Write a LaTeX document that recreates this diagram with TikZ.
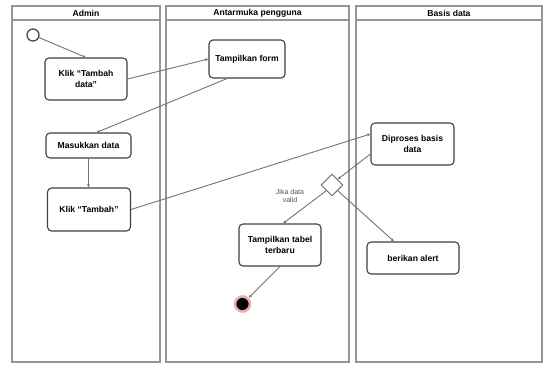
\documentclass[tikz,border=0pt]{standalone}
\usepackage{fontspec}
\setmainfont{Liberation Sans}
\usetikzlibrary{arrows.meta, shapes.geometric}
\definecolor{lanegray}{RGB}{150,150,150}
\definecolor{stopred}{RGB}{240,170,170}

\begin{document}
\begin{tikzpicture}[
    x=1pt, y=-1pt,
    lane/.style={draw=lanegray,line width=1.3pt},
    head/.style={font=\fontsize{8.6}{10}\selectfont\bfseries},
    box/.style={draw=black!75,line width=1.1pt,rounded corners=4pt,fill=white,
                align=center,font=\fontsize{8.6}{10.5}\selectfont\bfseries},
    arr/.style={-{Latex[length=3pt,width=3pt]},line width=0.9pt,black!55},
]
  \useasboundingbox (0,0) rectangle (545,364);

  % Lanes
  \draw[lane] (12,6) rectangle (160,362);
  \draw[lane] (12,20) -- (160,20);
  \node[head] (hadmin) at (86,13) {Admin};
  \draw[lane] (166,6) rectangle (349,362);
  \draw[lane] (166,20) -- (349,20);
  \node[head] (hui) at (257.5,13) {Antarmuka pengguna};
  \draw[lane] (356,6) rectangle (542,362);
  \draw[lane] (356,20) -- (542,20);
  \node[head] (hdb) at (449,13) {Basis data};

  % Actions
  \node[draw=black!70,line width=1.3pt,circle,minimum size=12pt,inner sep=0pt] (start) at (33,35) {};
  \node[box,minimum width=82pt,minimum height=42pt] (klik) at (86,79) {Klik “Tambah\\data”};
  \node[box,minimum width=76pt,minimum height=38pt] (form) at (247,59) {Tampilkan form};
  \node[box,minimum width=85pt,minimum height=25pt] (masuk) at (88.5,145.5) {Masukkan data};
  \node[box,minimum width=83pt,minimum height=43pt] (tambah) at (89,209.5) {Klik “Tambah”};
  \node[box,minimum width=83pt,minimum height=42pt] (proses) at (412.5,144) {Diproses basis\\data};
  \node[draw=black!60,line width=0.9pt,diamond,fill=white,minimum size=22pt,inner sep=0pt] (cek) at (332,185) {};
  \node[box,minimum width=82pt,minimum height=42pt] (tabel) at (280,245) {Tampilkan tabel\\terbaru};
  \node[box,minimum width=92pt,minimum height=32pt] (alert) at (413,258) {berikan alert};
  \node[circle,fill=black,draw=stopred,line width=2.6pt,minimum size=15pt,inner sep=0pt] (stop) at (242.5,304) {};

  % Label
  \node[font=\fontsize{7}{8}\selectfont,text=black!70,align=center] (valid) at (290,196) {Jika data\\valid};

  % Arrows
  \draw[arr] (start) -- (klik.north);
  \draw[arr] (klik.east) -- (form.west);
  \draw[arr] ([xshift=-20pt]form.south) -- ([xshift=8pt]masuk.north);
  \draw[arr] (masuk.south) -- (masuk.south |- tambah.north);
  \draw[arr] (tambah.east) -- ([yshift=10pt]proses.west);
  \draw[arr] ([yshift=-10pt]proses.west) -- (cek.north east);
  \draw[arr] (cek.south west) -- ([xshift=3pt]tabel.north);
  \draw[arr] (cek.south east) -- ([xshift=-19pt]alert.north);
  \draw[arr] (tabel.south) -- (stop);
\end{tikzpicture}
\end{document}
